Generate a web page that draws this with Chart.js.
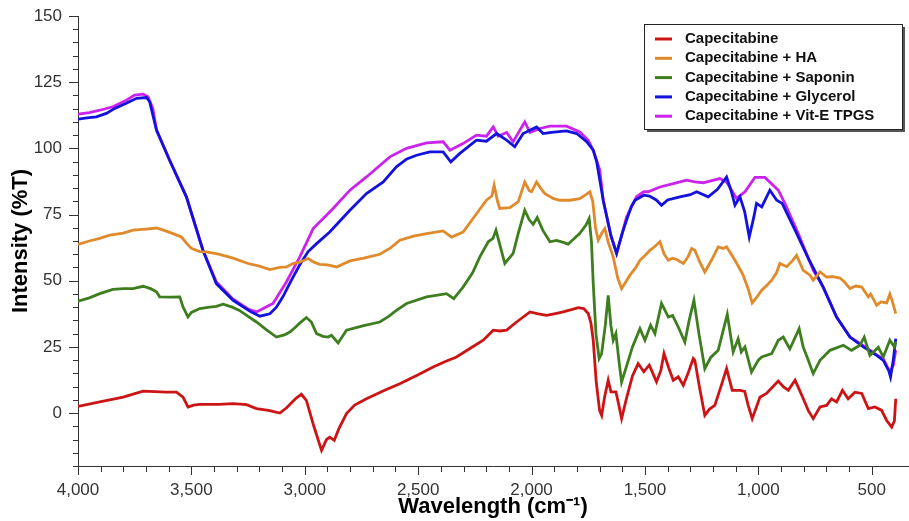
<!DOCTYPE html>
<html>
<head>
<meta charset="utf-8">
<title>FTIR - Capecitabine formulations</title>
<script src="https://cdn.jsdelivr.net/npm/chart.js@4.4.1/dist/chart.umd.min.js"></script>
<style>
    html, body { margin: 0; padding: 0; background: #fff; }
    #chartBox { position: relative; width: 909px; height: 521px; }
</style>
</head>
<body>
<div id="chartBox"><canvas id="ftirChart"></canvas></div>
<script>
// Series names and colours
const seriesLabels = ['Capecitabine', 'Capecitabine + HA', 'Capecitabine + Saponin', 'Capecitabine + Glycerol', 'Capecitabine + Vit-E TPGS'];
const seriesColors = ['#cc1414', '#e08a2c', '#3e7e1e', '#1212dc', '#cc22ee'];

// Capecitabine (wavenumber cm-1 / %T)
const capWave = [4000, 3904, 3801, 3713, 3610, 3566, 3537, 3515, 3490, 3463, 3380, 3316, 3257, 3213, 3160, 3110, 3080, 3040, 3015, 2993, 2960, 2926, 2904, 2890, 2870, 2850, 2816, 2780, 2728, 2650, 2581, 2500, 2434, 2380, 2331, 2270, 2213, 2169, 2140, 2110, 2066, 2007, 1970, 1934, 1900, 1861, 1820, 1794, 1770, 1750, 1738, 1728, 1715, 1700, 1691, 1678, 1662, 1650, 1628, 1615, 1603, 1580, 1555, 1530, 1505, 1481, 1465, 1449, 1430, 1416, 1395, 1375, 1353, 1331, 1310, 1287, 1280, 1260, 1236, 1215, 1192, 1165, 1140, 1115, 1080, 1060, 1045, 1027, 993, 964, 935, 912, 890, 868, 838, 815, 802, 780, 758, 728, 699, 677, 655, 629, 604, 574, 544, 515, 486, 457, 434, 412, 400, 394];
const capT = [2.5, 4.2, 6.0, 8.3, 7.9, 7.9, 6.0, 2.3, 3.0, 3.3, 3.3, 3.6, 3.2, 1.7, 1.0, 0.0, 2.0, 5.5, 7.1, 4.8, -5, -14.1, -10, -9.1, -10.3, -6, -0.2, 3, 5.4, 8.5, 11.1, 14.5, 17.4, 19.5, 21.2, 24.5, 27.5, 31.3, 31, 31.3, 34.4, 38.2, 37.5, 36.9, 37.5, 38.2, 39.2, 39.8, 39.5, 37.6, 34, 27.5, 12, 1, -0.9, 6, 12.4, 8, 8, 3, -2.1, 6, 14, 18.7, 15.6, 18.1, 15, 11.8, 16, 22.5, 17, 12.4, 13.7, 10.5, 15, 20.6, 19.9, 10, -0.9, 1.5, 2.9, 10, 16.8, 8.6, 8.6, 8.2, 3, -2.1, 6, 7.4, 10, 12.1, 10, 8.6, 12.4, 8, 5.5, 1, -2.1, 2.3, 2.9, 5.4, 4.2, 8.6, 5.4, 7.9, 7.4, 1.7, 2.3, 1.1, -2.8, -5.3, -3, 5.4];

// Capecitabine + HA
const haWave = [4000, 3950, 3904, 3860, 3800, 3757, 3700, 3654, 3620, 3581, 3544, 3520, 3500, 3463, 3434, 3380, 3316, 3250, 3200, 3154, 3110, 3081, 3052, 3022, 2985, 2960, 2934, 2900, 2860, 2801, 2740, 2669, 2620, 2581, 2520, 2463, 2390, 2353, 2302, 2258, 2199, 2175, 2165, 2150, 2140, 2096, 2059, 2030, 2010, 2000, 1978, 1960, 1941, 1905, 1876, 1831, 1788, 1760, 1743, 1730, 1718, 1706, 1690, 1677, 1660, 1640, 1620, 1603, 1585, 1566, 1540, 1522, 1500, 1478, 1455, 1434, 1415, 1397, 1378, 1360, 1331, 1310, 1294, 1280, 1258, 1236, 1205, 1177, 1155, 1140, 1103, 1085, 1067, 1045, 1027, 1005, 985, 960, 941, 920, 905, 875, 850, 831, 818, 802, 772, 758, 745, 728, 699, 670, 640, 620, 596, 570, 544, 515, 505, 478, 460, 434, 420, 410, 394];
const haT = [63.7, 65, 66, 67.2, 68, 69.1, 69.5, 69.9, 69, 67.8, 66.5, 64, 62.2, 61, 60.9, 60, 58.5, 56.5, 55.5, 54.2, 55, 55.2, 56.5, 57, 58.4, 57, 56.2, 56, 55.2, 57.5, 58.5, 60, 62.5, 65.3, 66.8, 67.8, 68.8, 66.5, 68.4, 73.5, 80.4, 82, 86.1, 80, 77.3, 77.6, 79.8, 87.3, 84, 83.6, 87.3, 85, 82.9, 81.1, 80.4, 80.4, 81, 82.5, 83.6, 80, 70, 65.3, 68, 69.7, 64, 59, 51, 47, 49.5, 52.1, 55, 57.7, 59.5, 61.5, 63, 64.7, 60, 57.7, 58.5, 58, 56.5, 59, 62.2, 61.5, 57, 53.3, 58, 62.8, 62.2, 62.8, 57.7, 55, 52.1, 47, 41.6, 44, 46.4, 48.5, 50.2, 53, 56.5, 55.3, 57.5, 59.6, 57, 53.9, 52.1, 50.2, 51.5, 53.3, 51.4, 51.5, 51, 49.5, 47, 48, 47.6, 43.9, 45, 40.7, 42, 41.6, 45, 42.5, 37.6];

// Capecitabine + Saponin
const sapWave = [4000, 3950, 3904, 3846, 3800, 3757, 3713, 3680, 3654, 3640, 3590, 3551, 3537, 3515, 3500, 3463, 3420, 3390, 3360, 3320, 3288, 3250, 3213, 3170, 3125, 3090, 3066, 3040, 3022, 2993, 2971, 2948, 2920, 2897, 2882, 2853, 2816, 2740, 2669, 2630, 2596, 2551, 2463, 2375, 2343, 2302, 2260, 2228, 2191, 2170, 2157, 2135, 2118, 2081, 2059, 2030, 2010, 1993, 1975, 1950, 1919, 1890, 1860, 1839, 1788, 1760, 1746, 1736, 1728, 1716, 1702, 1691, 1675, 1662, 1650, 1640, 1628, 1615, 1603, 1580, 1555, 1522, 1500, 1475, 1456, 1427, 1397, 1378, 1353, 1324, 1305, 1284, 1262, 1236, 1210, 1177, 1137, 1111, 1089, 1075, 1059, 1030, 1000, 985, 941, 912, 890, 861, 820, 802, 780, 758, 728, 684, 625, 589, 552, 533, 508, 471, 449, 420, 400, 394];
const sapT = [42.3, 43.5, 45.1, 46.7, 47, 47, 47.9, 47, 45.8, 43.9, 43.8, 43.9, 40.1, 36.3, 38, 39.5, 40, 40.3, 41.1, 40, 38.8, 36.5, 34.4, 31.5, 28.7, 29.5, 30.6, 32.5, 34, 36.1, 34.4, 30, 29, 28.7, 29.4, 26.5, 31.3, 33, 34.4, 36.5, 38.8, 41.4, 43.9, 45.1, 43.2, 47.6, 53, 59, 64.7, 66, 69.1, 62, 56.5, 60.3, 67.8, 76.6, 73, 71.3, 73.9, 69, 64.7, 65.2, 64.5, 63.8, 67.8, 71, 73.5, 65, 48.9, 30, 20.6, 22.5, 33, 44.5, 33, 27.5, 30, 20, 11.7, 18, 25, 31.9, 27.5, 33.2, 30, 41.4, 36.3, 36.9, 32.5, 26.8, 35, 42.6, 30, 16.8, 21, 23.7, 37.3, 23.1, 28.1, 23.1, 25, 15.5, 20, 21.2, 22.5, 27.5, 28.7, 24.2, 31.9, 24.9, 20, 14.9, 19.9, 23.7, 25.6, 23.7, 25.6, 28.7, 21.8, 24.8, 21.2, 27.5, 25, 27];

// Capecitabine + Glycerol
const glyWave = [4000, 3960, 3919, 3875, 3838, 3787, 3742, 3698, 3684, 3654, 3596, 3522, 3449, 3390, 3316, 3243, 3198, 3154, 3125, 3096, 3060, 3022, 2985, 2948, 2890, 2840, 2801, 2728, 2654, 2596, 2550, 2507, 2449, 2390, 2356, 2316, 2243, 2199, 2154, 2110, 2074, 2037, 1978, 1949, 1912, 1846, 1801, 1757, 1728, 1713, 1684, 1650, 1625, 1600, 1581, 1560, 1544, 1505, 1480, 1450, 1427, 1400, 1346, 1300, 1272, 1221, 1180, 1140, 1120, 1103, 1081, 1060, 1040, 1020, 1008, 985, 949, 919, 895, 838, 780, 714, 655, 596, 537, 478, 449, 425, 417, 405, 394];
const glyT = [111, 111.5, 111.9, 113.2, 115.1, 117, 118.9, 119.2, 117.6, 106.9, 95.5, 81.7, 61.5, 48.9, 42.6, 38.5, 36.6, 37.5, 40, 44, 50, 56, 61, 64, 68.4, 73, 76.6, 82.9, 87.3, 93, 96, 97.4, 98.7, 98.7, 94.9, 98.1, 103.1, 102.7, 105.6, 103.1, 100.6, 105.6, 108.1, 105.6, 106, 106.6, 105.6, 102.5, 99.3, 95, 80.4, 67, 60.3, 68, 72.9, 78, 80.4, 82.3, 82, 80.5, 78.5, 80.5, 81.7, 82.5, 83.6, 81.7, 84.5, 89.2, 84, 78.5, 81.7, 76, 66.5, 74, 79.2, 77.9, 84.2, 80.4, 79.2, 69.1, 58.5, 47.6, 36.3, 28.7, 25, 21.8, 19.9, 16, 13.6, 20, 28.1];

// Capecitabine + Vit-E TPGS
const tpgsWave = [4000, 3950, 3904, 3846, 3787, 3750, 3713, 3691, 3670, 3654, 3596, 3522, 3449, 3390, 3316, 3250, 3213, 3160, 3140, 3081, 3022, 2963, 2875, 2801, 2728, 2625, 2551, 2463, 2390, 2360, 2302, 2243, 2199, 2169, 2147, 2110, 2081, 2030, 2007, 1963, 1919, 1846, 1787, 1750, 1728, 1699, 1684, 1650, 1625, 1600, 1581, 1537, 1505, 1486, 1434, 1375, 1346, 1316, 1280, 1243, 1170, 1140, 1096, 1059, 1015, 971, 912, 883, 824, 758, 714, 655, 596, 537, 478, 449, 420, 405, 394];
const tpgsT = [112.9, 113.5, 114.4, 115.7, 118.2, 120.1, 120.5, 119.5, 115, 107, 95.5, 81.7, 61.5, 49.5, 43, 39.3, 38.2, 40.5, 41.4, 49.5, 59, 69.7, 77.3, 84.2, 89.2, 96.8, 100, 102.1, 102.5, 99.3, 101.8, 105, 104.6, 108.1, 104.6, 106, 102.5, 110, 106, 107.5, 108.4, 108.4, 106.2, 103, 99.3, 91.8, 80.4, 67, 60.3, 68, 74.1, 81.7, 83.6, 83.6, 85.4, 86.7, 87.3, 88, 87.3, 87, 88.6, 87.3, 81.1, 83.6, 89, 89, 84.2, 79.2, 67.8, 54, 47.6, 36.3, 28.7, 25.5, 22, 20.5, 15.5, 18, 23.7];

// Axis settings
const xMin = 340, xMax = 4000, xStep = 100, xMajor = 500;
const yMin = -20, yMax = 150, yStep = 5, yMajor = 25;

const FONT = "'Liberation Sans', Arial, Helvetica, sans-serif";

document.addEventListener('DOMContentLoaded', function() {
    initializeSpectraChart();
});

function toPoints(waves, values) {
    return waves.map((w, i) => ({ x: w, y: values[i] }));
}

function buildDatasets() {
    const pairs = [[capWave, capT], [haWave, haT], [sapWave, sapT], [glyWave, glyT], [tpgsWave, tpgsT]];
    return pairs.map((p, i) => ({
        label: seriesLabels[i],
        data: toPoints(p[0], p[1]),
        borderColor: seriesColors[i],
        backgroundColor: seriesColors[i],
        borderWidth: 2.8,
        pointRadius: 0,
        tension: 0,
        fill: false
    }));
}

// minor / major tick marks drawn by hand (Chart.js has one tick length only)
const tickMarksPlugin = {
    id: 'tickMarks',
    afterDraw(chart) {
        const ctx = chart.ctx;
        const xs = chart.scales.x;
        const ys = chart.scales.y;
        ctx.save();
        ctx.strokeStyle = '#333';
        ctx.lineWidth = 1;
        ctx.beginPath();
        xs.ticks.forEach(t => {
            const px = Math.round(xs.getPixelForValue(t.value)) + 0.5;
            const len = t.value % xMajor === 0 ? 9 : 6;
            ctx.moveTo(px, xs.top);
            ctx.lineTo(px, xs.top + len);
        });
        ys.ticks.forEach(t => {
            const py = Math.round(ys.getPixelForValue(t.value)) + 0.5;
            const len = t.value % yMajor === 0 ? 9 : 5;
            ctx.moveTo(ys.right, py);
            ctx.lineTo(ys.right - len, py);
        });
        ctx.stroke();
        ctx.restore();
    }
};

// boxed legend with drop shadow, inside the plot
const boxLegendPlugin = {
    id: 'boxLegend',
    afterDraw(chart) {
        const ctx = chart.ctx;
        const box = { left: 644, top: 24, width: 258, height: 105 };
        ctx.save();
        ctx.fillStyle = '#555';
        ctx.fillRect(box.left + 3, box.top + 3, box.width, box.height);
        ctx.fillStyle = '#fff';
        ctx.fillRect(box.left, box.top, box.width, box.height);
        ctx.strokeStyle = '#222';
        ctx.lineWidth = 1;
        ctx.strokeRect(box.left + 0.5, box.top + 0.5, box.width, box.height);

        ctx.font = 'bold 15px ' + FONT;
        ctx.textBaseline = 'middle';
        ctx.fillStyle = '#111';
        chart.data.datasets.forEach((ds, i) => {
            const y = box.top + 15 + i * 19.3;
            ctx.strokeStyle = ds.borderColor;
            ctx.lineWidth = 3;
            ctx.beginPath();
            ctx.moveTo(655, y);
            ctx.lineTo(672, y);
            ctx.stroke();
            ctx.fillText(ds.label, 685, y);
        });
        ctx.restore();
    }
};

function initializeSpectraChart() {
    const ctx = document.getElementById('ftirChart');
    Chart.defaults.font.family = FONT;

    new Chart(ctx, {
        type: 'line',
        data: { datasets: buildDatasets() },
        options: {
            responsive: true,
            maintainAspectRatio: false,
            animation: false,
            devicePixelRatio: 1,
            layout: { padding: { top: 16, right: 1, left: 0, bottom: 0 } },
            plugins: {
                legend: { display: false },
                tooltip: { enabled: false }
            },
            scales: {
                x: {
                    type: 'linear',
                    reverse: true,
                    min: xMin,
                    max: xMax,
                    afterBuildTicks: s => { s.ticks = s.ticks.filter(t => t.value % xStep === 0); },
                    afterFit: s => { s.height = 55; },
                    grid: { display: false, drawTicks: false },
                    border: { display: true, color: '#333', width: 1 },
                    ticks: {
                        stepSize: xStep,
                        autoSkip: false,
                        maxTicksLimit: 100,
                        maxRotation: 0,
                        padding: 14,
                        color: '#333',
                        font: { size: 17 },
                        callback: v => v % xMajor === 0 ? v.toLocaleString('en-US') : ''
                    },
                    title: {
                        display: true,
                        text: 'Wavelength (cm⁻¹)',
                        color: '#000',
                        font: { size: 22, weight: 'bold' },
                        padding: { top: 0, bottom: 1 }
                    }
                },
                y: {
                    min: yMin,
                    max: yMax,
                    // tick padding would otherwise push the plot top down
                    afterFit: s => { s.width = 78; s.paddingTop = 0; s.paddingBottom = 0; },
                    grid: { display: false, drawTicks: false },
                    border: { display: true, color: '#333', width: 1 },
                    ticks: {
                        stepSize: yStep,
                        autoSkip: false,
                        maxTicksLimit: 100,
                        padding: 16,
                        color: '#333',
                        font: { size: 17 },
                        callback: v => v % yMajor === 0 ? v : ''
                    },
                    title: {
                        display: true,
                        text: 'Intensity (%T)',
                        color: '#000',
                        font: { size: 22, weight: 'bold' },
                        padding: { top: 8, bottom: 0 }
                    }
                }
            }
        },
        plugins: [tickMarksPlugin, boxLegendPlugin]
    });
}
</script>
</body>
</html>
